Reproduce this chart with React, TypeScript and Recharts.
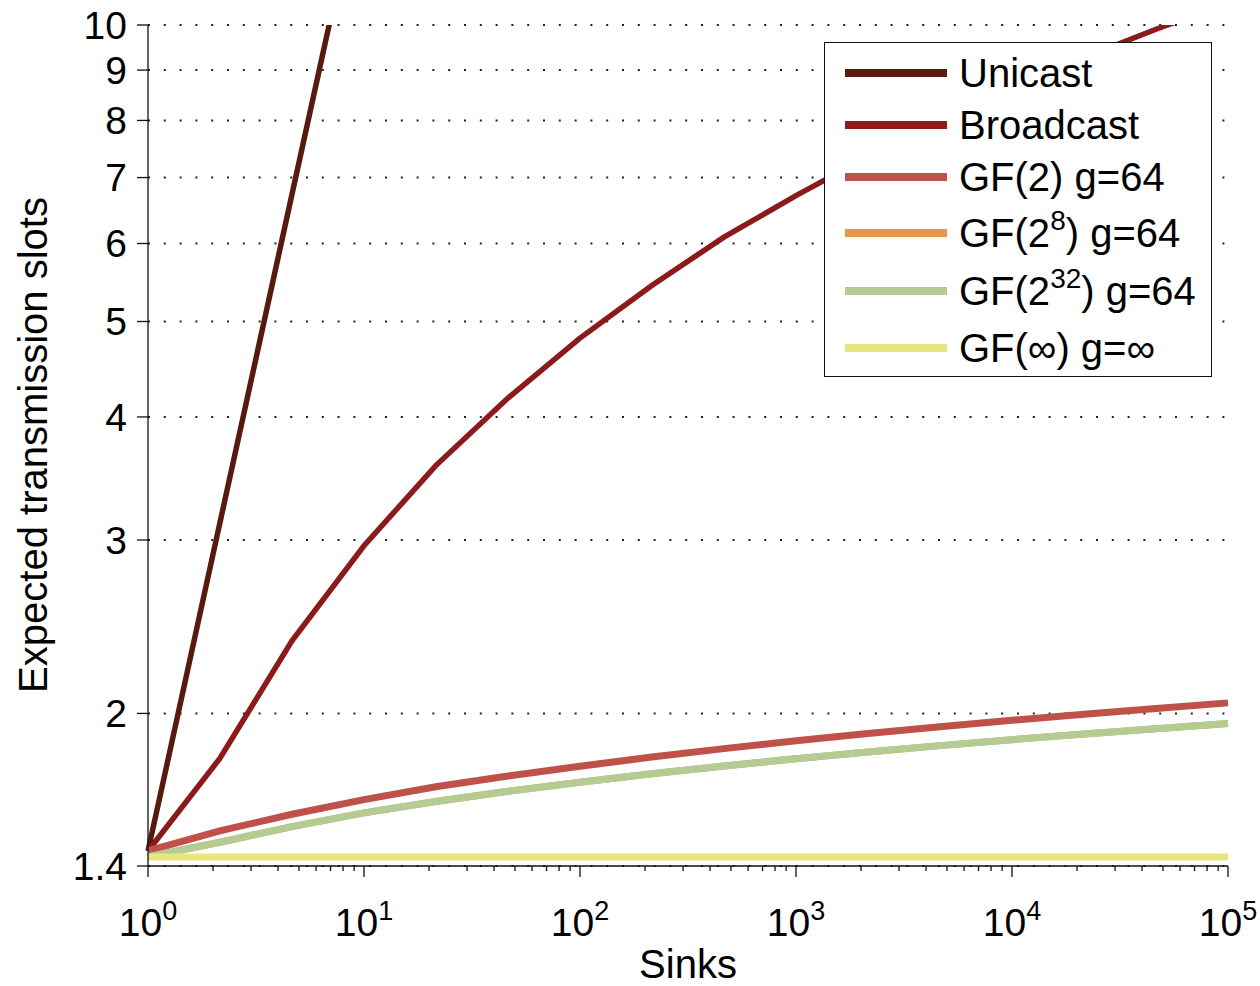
import React from "react";
import { LineChart, Line, XAxis, YAxis, CartesianGrid, Legend, Label } from "recharts";

// sinks sampled at thirds of a decade
const sinks = [1, 2.15, 4.64, 10, 21.5, 46.4, 100, 215, 464, 1000, 2154, 4642, 10000, 21544, 46416, 100000];

const unicast = [1.45, 3.12, 6.73, 14.5, null, null, null, null, null, null, null, null, null, null, null, null];
const broadcast = [1.45, 1.8, 2.37, 2.96, 3.57, 4.18, 4.81, 5.44, 6.09, 6.71, 7.35, 7.99, 8.63, 9.27, 9.9, 10.54];
const gf2 = [1.45, 1.52, 1.58, 1.635, 1.685, 1.728, 1.768, 1.806, 1.842, 1.876, 1.908, 1.939, 1.968, 1.996, 2.023, 2.05];
const gf2e8 = [1.43, 1.48, 1.535, 1.585, 1.628, 1.667, 1.703, 1.737, 1.769, 1.799, 1.828, 1.855, 1.881, 1.906, 1.93, 1.953];
const gf2e32 = [1.43, 1.48, 1.535, 1.585, 1.628, 1.667, 1.703, 1.737, 1.769, 1.799, 1.828, 1.855, 1.881, 1.906, 1.93, 1.953];
const gfInf = [1.43, 1.43, 1.43, 1.43, 1.43, 1.43, 1.43, 1.43, 1.43, 1.43, 1.43, 1.43, 1.43, 1.43, 1.43, 1.43];

const yTicks = [1.4, 2, 3, 4, 5, 6, 7, 8, 9, 10];
const xDecades = [1, 10, 100, 1000, 10000, 100000];
const xMinorSteps = [2, 3, 4, 5, 6, 7, 8, 9];

const xTicks: number[] = [];
xDecades.forEach((d, i) => {
  xTicks.push(d);
  if (i < xDecades.length - 1) xMinorSteps.forEach((m) => xTicks.push(d * m));
});

const data = sinks.map((s, i) => ({
  sinks: s,
  unicast: unicast[i],
  broadcast: broadcast[i],
  gf2: gf2[i],
  gf2e8: gf2e8[i],
  gf2e32: gf2e32[i],
  gfInf: gfInf[i],
}));

const FONT = "'Liberation Sans', Arial, Helvetica, sans-serif";

function supStyle(): React.CSSProperties {
  return { fontSize: 28, verticalAlign: "baseline", position: "relative", top: -17, lineHeight: 0 };
}

const series = [
  { key: "unicast", color: "#561a0e", width: 5.5, label: <>Unicast</> },
  { key: "broadcast", color: "#8c1a1a", width: 5.5, label: <>Broadcast</> },
  { key: "gf2", color: "#c0504a", width: 7, label: <>GF(2) g=64</> },
  {
    key: "gf2e8",
    color: "#e8964a",
    width: 7,
    label: <>GF(2<sup style={supStyle()}>8</sup>) g=64</>,
  },
  {
    key: "gf2e32",
    color: "#b4cc94",
    width: 7,
    label: <>GF(2<sup style={supStyle()}>32</sup>) g=64</>,
  },
  { key: "gfInf", color: "#e8e682", width: 7, label: <>GF(∞) g=∞</> },
];

// row centres inside the legend box
const legendRows = [30, 82, 134, 190, 248, 305];

function LegendBox() {
  return (
    <div
      style={{
        position: "relative",
        boxSizing: "border-box",
        width: 388,
        height: 335,
        border: "1.5px solid #111",
        background: "#fff",
        fontFamily: FONT,
        fontSize: 40,
        color: "#000",
      }}
    >
      {series.map((s, i) => (
        <div
          key={s.key}
          style={{
            position: "absolute",
            left: 0,
            top: legendRows[i] - 25,
            height: 50,
            display: "flex",
            alignItems: "center",
          }}
        >
          <div style={{ marginLeft: 20, width: 102, height: 8, background: s.color }} />
          <span style={{ marginLeft: 12, lineHeight: "50px", whiteSpace: "nowrap" }}>{s.label}</span>
        </div>
      ))}
    </div>
  );
}

function SinkTick(props: any) {
  const { x, y, payload } = props;
  const lg = Math.log10(payload.value);
  const exp = Math.round(lg);
  const major = Math.abs(lg - exp) < 1e-6;
  return (
    <g>
      <line x1={x} y1={y} x2={x} y2={y + (major ? 11 : 5)} stroke="#111" strokeWidth={1.3} />
      {major && (
        <text x={x} y={y + 70} textAnchor="middle" fontSize={39} fill="#000" fontFamily={FONT}>
          <tspan>10</tspan>
          <tspan dy={-16} fontSize={27}>
            {exp}
          </tspan>
        </text>
      )}
    </g>
  );
}

export default function App() {
  return (
    <div style={{ position: "absolute", left: 0, top: 0, width: 1260, height: 986, background: "#fff" }}>
      <LineChart
        width={1260}
        height={986}
        data={data}
        margin={{ top: 25, right: 32, bottom: 0, left: 0 }}
        style={{ fontFamily: FONT }}
      >
        <CartesianGrid vertical={false} stroke="#222" strokeWidth={2} strokeDasharray="2 13.8" />
        <XAxis
          dataKey="sinks"
          type="number"
          scale="log"
          domain={[1, 100000]}
          ticks={xTicks}
          interval={0}
          height={120}
          tickSize={0}
          tickMargin={0}
          tickLine={false}
          axisLine={{ stroke: "#111", strokeWidth: 1.3 }}
          tick={<SinkTick />}
        >
          <Label
            content={() => (
              <text x={688} y={978} textAnchor="middle" fontSize={40} fill="#000" fontFamily={FONT}>
                Sinks
              </text>
            )}
          />
        </XAxis>
        <YAxis
          type="number"
          scale="log"
          domain={[1.4, 10]}
          allowDataOverflow
          ticks={yTicks}
          interval={0}
          width={148}
          tickSize={11}
          tickMargin={10}
          tick={{ fontSize: 39, fill: "#000", fontFamily: FONT }}
          tickLine={{ stroke: "#111", strokeWidth: 1.3 }}
          axisLine={{ stroke: "#111", strokeWidth: 1.3 }}
        >
          <Label
            content={() => (
              <text
                x={47}
                y={445}
                transform="rotate(-90 47 445)"
                textAnchor="middle"
                fontSize={40}
                fill="#000"
                fontFamily={FONT}
              >
                Expected transmission slots
              </text>
            )}
          />
        </YAxis>
        {series.map((s) => (
          <Line
            key={s.key}
            dataKey={s.key}
            type="linear"
            stroke={s.color}
            strokeWidth={s.width}
            dot={false}
            activeDot={false}
            isAnimationActive={false}
          />
        ))}
        <Legend
          layout="vertical"
          align="center"
          verticalAlign="middle"
          wrapperStyle={{ left: 824, top: 42, width: 388, height: 335 }}
          content={() => <LegendBox />}
        />
      </LineChart>
    </div>
  );
}
